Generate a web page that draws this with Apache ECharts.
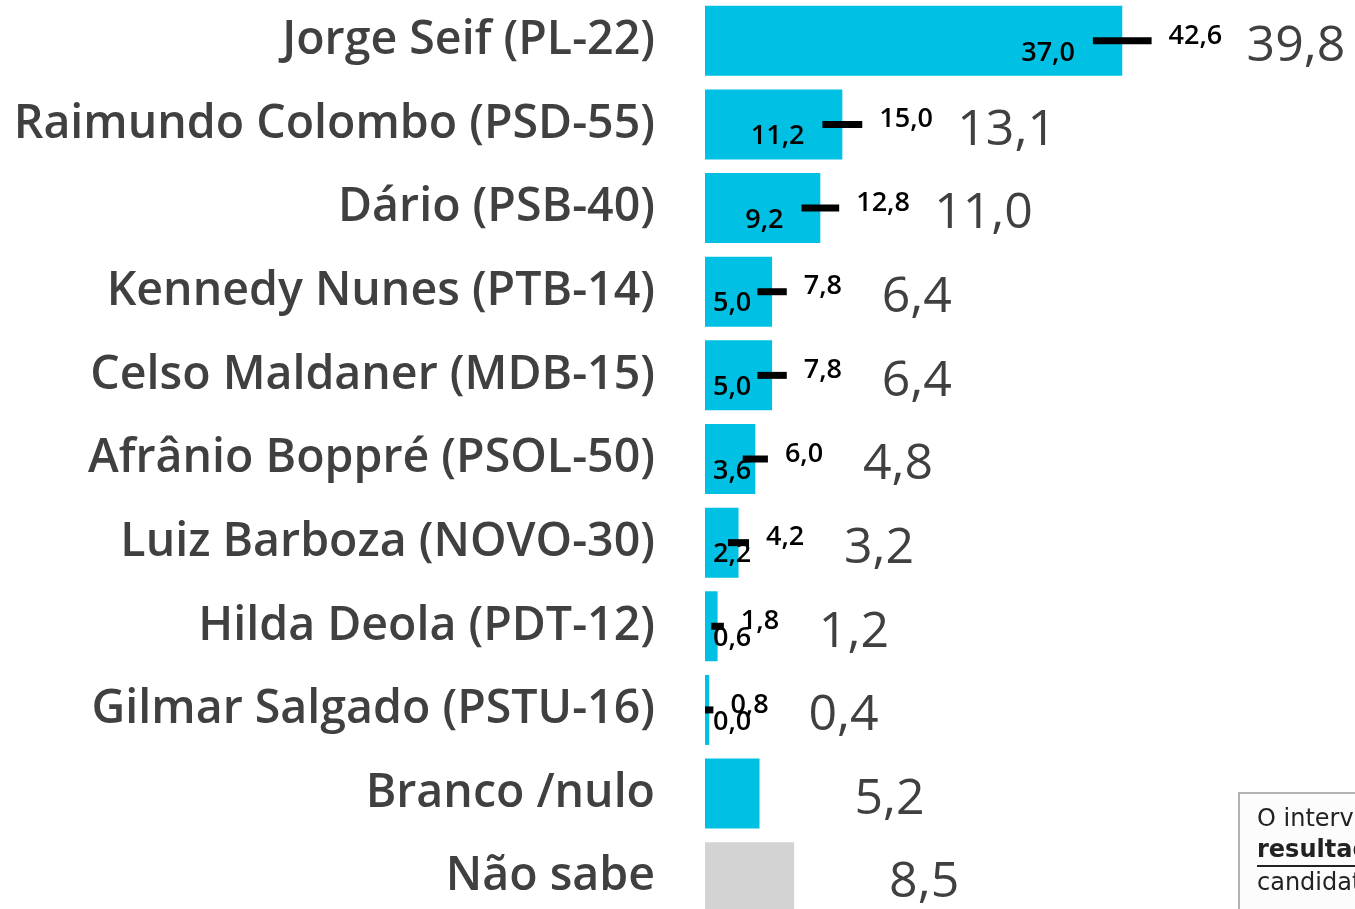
<!DOCTYPE html>
<html>
<head>
<meta charset="utf-8">
<script src="https://cdn.jsdelivr.net/npm/echarts@6/dist/echarts.min.js"></script>
<style>
html,body{margin:0;padding:0;background:#fff;}
#chart{width:1355px;height:909px;}
</style>
</head>
<body>
<div id="chart"></div>
<script>
// ---- data ----
const categories = ['Jorge Seif (PL-22)', 'Raimundo Colombo (PSD-55)', 'Dário (PSB-40)', 'Kennedy Nunes (PTB-14)', 'Celso Maldaner (MDB-15)', 'Afrânio Boppré (PSOL-50)', 'Luiz Barboza (NOVO-30)', 'Hilda Deola (PDT-12)', 'Gilmar Salgado (PSTU-16)', 'Branco /nulo', 'Não sabe'];
const values = [39.8, 13.1, 11.0, 6.4, 6.4, 4.8, 3.2, 1.2, 0.4, 5.2, 8.5];
const lows = [37.0, 11.2, 9.2, 5.0, 5.0, 3.6, 2.2, 0.6, 0.0, null, null];
const highs = [42.6, 15.0, 12.8, 7.8, 7.8, 6.0, 4.2, 1.8, 0.8, null, null];
const noteLines = ['O intervalo', 'resultado', 'candidato'];

// ---- styles ----
const CYAN = '#00C1E3';
const GREY = '#D3D3D3';
const smallFont = '600 27px "Open Sans"';
const bigFont = '50px "Open Sans"';

const mctx = document.createElement('canvas').getContext('2d');
function tw(t, font) { mctx.font = font; return mctx.measureText(t).width; }
function fmt(v) { return v.toFixed(1).replace('.', ','); }

const barData = values.map((v, i) => ({
  value: v,
  itemStyle: { color: categories[i] === 'Não sabe' ? GREY : CYAN }
}));
const customData = values.map((v, i) => [v, i, lows[i] == null ? NaN : lows[i], highs[i] == null ? NaN : highs[i]]);

const chart = echarts.init(document.getElementById('chart'), null, { renderer: 'canvas' });
chart.setOption({
  animation: false,
  grid: { left: 705, right: 0, top: -1, height: 920, containLabel: false, outerBoundsMode: 'none' },
  xAxis: { type: 'value', min: 0, max: 62, show: false },
  yAxis: {
    type: 'category', data: categories, inverse: true,
    axisLine: { show: false }, axisTick: { show: false }, splitLine: { show: false },
    axisLabel: { margin: 50, fontFamily: 'Open Sans', fontWeight: 600, fontSize: 46.5, color: '#404040' }
  },
  series: [
    { type: 'bar', data: barData, barWidth: 70, silent: true },
    {
      type: 'custom', data: customData, encode: { x: 0, y: 1 }, clip: false, z: 5, silent: true,
      renderItem: function (params, api) {
        const v = api.value(0), cat = api.value(1), lo = api.value(2), hi = api.value(3);
        const x0 = api.coord([0, cat])[0];
        const pv = api.coord([v, cat]);
        const y = pv[1];
        const children = [];
        let endX = pv[0];
        if (!isNaN(lo) && !isNaN(hi)) {
          const p1 = api.coord([lo, cat]), p2 = api.coord([hi, cat]);
          endX = Math.max(endX, p2[0]);
          children.push({ type: 'rect', shape: { x: p1[0], y: y - 3.5, width: Math.max(p2[0] - p1[0], 1), height: 7 }, style: { fill: '#000' } });
          const lt = fmt(lo);
          const w = tw(lt, smallFont);
          const right = Math.max(p1[0] - 18, x0 + 8 + w);
          children.push({ type: 'text', style: { text: lt, x: right, y: y + 12, align: 'right', verticalAlign: 'middle', font: smallFont, fill: '#000' } });
          children.push({ type: 'text', style: { text: fmt(hi), x: p2[0] + 17, y: y - 5, align: 'left', verticalAlign: 'middle', font: smallFont, fill: '#000' } });
        }
        children.push({ type: 'text', style: { text: fmt(v), x: endX + 95, y: y + 6, align: 'left', verticalAlign: 'middle', font: bigFont, fill: '#404040' } });
        return { type: 'group', children: children };
      }
    }
  ],
  graphic: [
    { type: 'rect', shape: { x: 1239, y: 793, width: 200, height: 140 }, style: { fill: '#fcfcfc', stroke: '#9a9a9a', lineWidth: 1.5 } },
    { type: 'text', style: { text: noteLines[0], x: 1257, y: 820, verticalAlign: 'middle', font: '24px "DejaVu Sans"', fill: '#222' } },
    { type: 'text', style: { text: noteLines[1], x: 1257, y: 851, verticalAlign: 'middle', font: 'bold 24px "DejaVu Sans"', fill: '#222' } },
    { type: 'rect', shape: { x: 1257, y: 865, width: 140, height: 2 }, style: { fill: '#222' } },
    { type: 'text', style: { text: noteLines[2], x: 1257, y: 884, verticalAlign: 'middle', font: '24px "DejaVu Sans"', fill: '#222' } }
  ]
});
</script>
</body>
</html>
